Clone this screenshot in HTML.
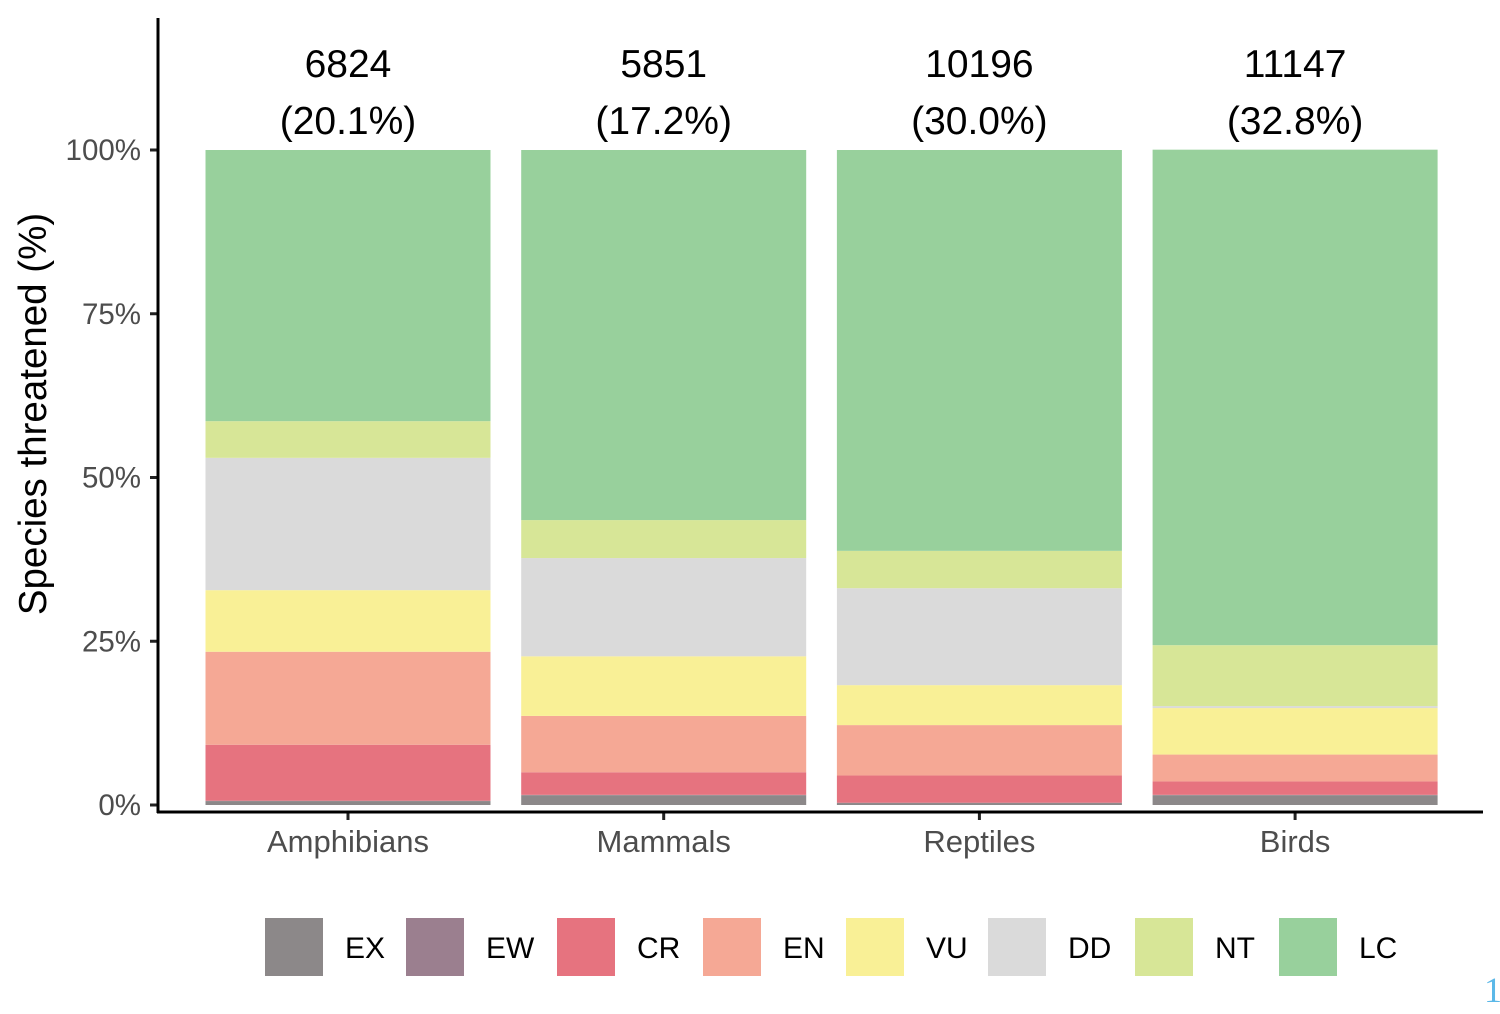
<!DOCTYPE html>
<html><head><meta charset="utf-8"><style>
body{margin:0;background:#fff;width:1500px;height:1009px;overflow:hidden;font-family:"Liberation Sans",sans-serif}
</style></head><body>
<svg id="chart" width="1500" height="1009" xmlns="http://www.w3.org/2000/svg"></svg>
<script>
const categories=["Amphibians","Mammals","Reptiles","Birds"];
const counts=["6824","5851","10196","11147"];
const shares=["(20.1%)","(17.2%)","(30.0%)","(32.8%)"];
const statuses=["EX","EW","CR","EN","VU","DD","NT","LC"];
const colors=["#8c8889","#9b7f8f","#e6737f","#f5a895","#f9f096","#dadada","#d7e697","#98d09c"];
const EX=[0.6,1.5,0.3,1.5];
const EW=[0.05,0.05,0.05,0.05];
const CR=[8.55,3.45,4.15,2.05];
const EN=[14.2,8.6,7.7,4.1];
const VU=[9.4,9.1,6.1,7.1];
const DD=[20.2,15.0,14.8,0.3];
const NT=[5.6,5.8,5.7,9.3];
const LC=[41.4,56.5,61.2,75.65];
const series=[EX,EW,CR,EN,VU,DD,NT,LC];
const yTicks=[0,25,50,75,100];
const yTickLabels=["0%","25%","50%","75%","100%"];

const svg=document.getElementById('chart');
const NS="http://www.w3.org/2000/svg";
function mk(t,a,txt){const e=document.createElementNS(NS,t);for(const k in a)e.setAttribute(k,a[k]);if(txt!==undefined)e.textContent=txt;svg.appendChild(e);return e;}
const y0=805,y100=150;
const yS=v=>y0-(y0-y100)*v/100;
const xC=i=>348+i*315.7;
const bw=285;

categories.forEach((c,i)=>{
  let cum=0;
  series.forEach((s,k)=>{
    const v=s[i];
    const r=mk('rect',{x:xC(i)-bw/2,y:yS(cum+v),width:bw,height:yS(cum)-yS(cum+v),fill:colors[k]});
    
    
    cum+=v;
  });
  const t1=mk('text',{x:xC(i),y:77,'text-anchor':'middle','font-size':39,fill:'#000'},counts[i]);
  
  
  const t2=mk('text',{x:xC(i),y:134,'text-anchor':'middle','font-size':39,fill:'#000'},shares[i]);
  
  
  const tk=mk('line',{x1:xC(i),x2:xC(i),y1:812,y2:820,stroke:'#222','stroke-width':3});
  
  
  const xl=mk('text',{x:xC(i),y:852,'text-anchor':'middle','font-size':31,fill:'#4d4d4d'},c);
  
  
});
yTicks.forEach((v,j)=>{
  const tk=mk('line',{x1:150,x2:158,y1:yS(v),y2:yS(v),stroke:'#222','stroke-width':3});
  
  
  const tl=mk('text',{x:141,y:yS(v)+10,'text-anchor':'end','font-size':29.5,fill:'#4d4d4d'},yTickLabels[j]);
  
  
});
const ya=mk('line',{x1:158,x2:158,y1:18,y2:813,stroke:'#000','stroke-width':3});


const xa=mk('line',{x1:157,x2:1483,y1:812,y2:812,stroke:'#000','stroke-width':3});


const yt=mk('text',{x:0,y:0,transform:'translate(46,414) rotate(-90)','text-anchor':'middle','font-size':38.5,fill:'#000'},'Species threatened (%)');


const lx=[265,406,557,703,846,988,1135,1279];
statuses.forEach((s,k)=>{
  const r=mk('rect',{x:lx[k],y:918,width:58,height:58,fill:colors[k]});
  
  
  const t=mk('text',{x:lx[k]+80,y:958,'font-size':30,fill:'#000'},s);
  
  
});
const pn=mk('text',{x:1484,y:1002,'font-size':36,fill:'#5bb8e8','font-family':'Liberation Serif, serif'},'1');


</script>
</body></html>
